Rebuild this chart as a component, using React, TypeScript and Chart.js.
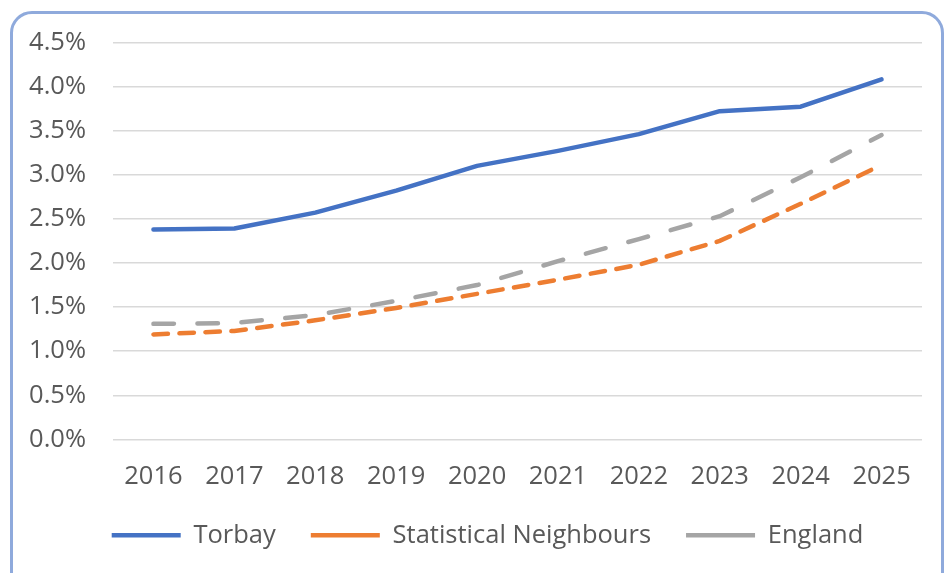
import React, { useEffect, useRef } from "react";
import { Chart, registerables } from "chart.js";

Chart.register(...registerables);

const years = ["2016", "2017", "2018", "2019", "2020", "2021", "2022", "2023", "2024", "2025"];
const torbay = [0.0238, 0.0239, 0.0257, 0.0282, 0.031, 0.0327, 0.0346, 0.0372, 0.0377, 0.0408];
const statNeighbours = [0.0119, 0.0123, 0.0135, 0.0149, 0.0165, 0.0181, 0.0198, 0.0225, 0.0267, 0.0311];
const england = [0.0131, 0.0132, 0.0141, 0.0157, 0.0175, 0.0202, 0.0227, 0.0253, 0.0297, 0.0345];

const FONT = "'Open Sans', 'Noto Sans', sans-serif";

// Centre the legend under the plot area rather than under the whole canvas
const legendUnderPlot = {
  id: "legendUnderPlot",
  afterLayout(chart: any) {
    const l = chart.legend;
    if (l && chart.chartArea) {
      const w = l.right - l.left;
      const c = (chart.chartArea.left + chart.chartArea.right) / 2 - 30;
      l.left = c - w / 2;
      l.right = c + w / 2;
    }
  },
};

export default function App() {
  const ref = useRef<HTMLCanvasElement | null>(null);

  useEffect(() => {
    document.body.style.margin = "0";
    document.body.style.overflow = "hidden";
    const canvas = ref.current;
    if (!canvas) return;
    const chart = new Chart(canvas, {
      type: "line",
      plugins: [legendUnderPlot],
      data: {
        labels: years,
        datasets: [
          {
            label: "Torbay",
            data: torbay,
            borderColor: "#4472c4",
            backgroundColor: "#4472c4",
            borderWidth: 4.5,
            pointRadius: 0,
            borderCapStyle: "round",
            borderJoinStyle: "round",
            tension: 0,
          },
          {
            label: "Statistical Neighbours",
            data: statNeighbours,
            borderColor: "#ed7d31",
            backgroundColor: "#ed7d31",
            borderWidth: 4.5,
            pointRadius: 0,
            borderDash: [14.5, 11.5],
            borderCapStyle: "round",
            tension: 0,
          },
          {
            label: "England",
            data: england,
            borderColor: "#a5a5a5",
            backgroundColor: "#a5a5a5",
            borderWidth: 4.5,
            pointRadius: 0,
            borderDash: [20.5, 23.5],
            borderCapStyle: "round",
            tension: 0,
          },
        ],
      },
      options: {
        animation: false,
        responsive: false,
        layout: { padding: { left: 20, right: 26, top: 42, bottom: 15 } },
        plugins: {
          tooltip: { enabled: false },
          legend: {
            position: "bottom",
            labels: {
              usePointStyle: true,
              pointStyle: "line",
              pointStyleWidth: 69,
              boxHeight: 20,
              padding: 35,
              color: "#595959",
              font: { family: FONT, size: 25.5 },
            },
          },
        },
        scales: {
          x: {
            offset: true,
            grid: { display: false },
            border: { display: false },
            ticks: { color: "#595959", font: { family: FONT, size: 25.5 }, padding: 14 },
            afterFit: (s: any) => {
              s.height = 48;
            },
          },
          y: {
            min: 0,
            max: 0.045,
            border: { display: false },
            grid: { color: "#d9d9d9", lineWidth: 1.5, drawTicks: false },
            ticks: {
              stepSize: 0.005,
              color: "#595959",
              font: { family: FONT, size: 25.5 },
              padding: 27,
              callback: (v: any) => (Number(v) * 100).toFixed(1) + "%",
            },
            afterFit: (s: any) => {
              s.width = 93;
            },
          },
        },
      },
    });
    return () => chart.destroy();
  }, []);

  return (
    <div style={{ position: "relative", width: 948, height: 573, overflow: "hidden", background: "#fff" }}>
      <div
        style={{
          position: "absolute",
          left: 10,
          top: 11,
          width: 928,
          height: 590,
          border: "3px solid #8faadc",
          borderRadius: 22,
        }}
      />
      <canvas ref={ref} width={948} height={573} style={{ position: "absolute", left: 0, top: 0 }} />
    </div>
  );
}
